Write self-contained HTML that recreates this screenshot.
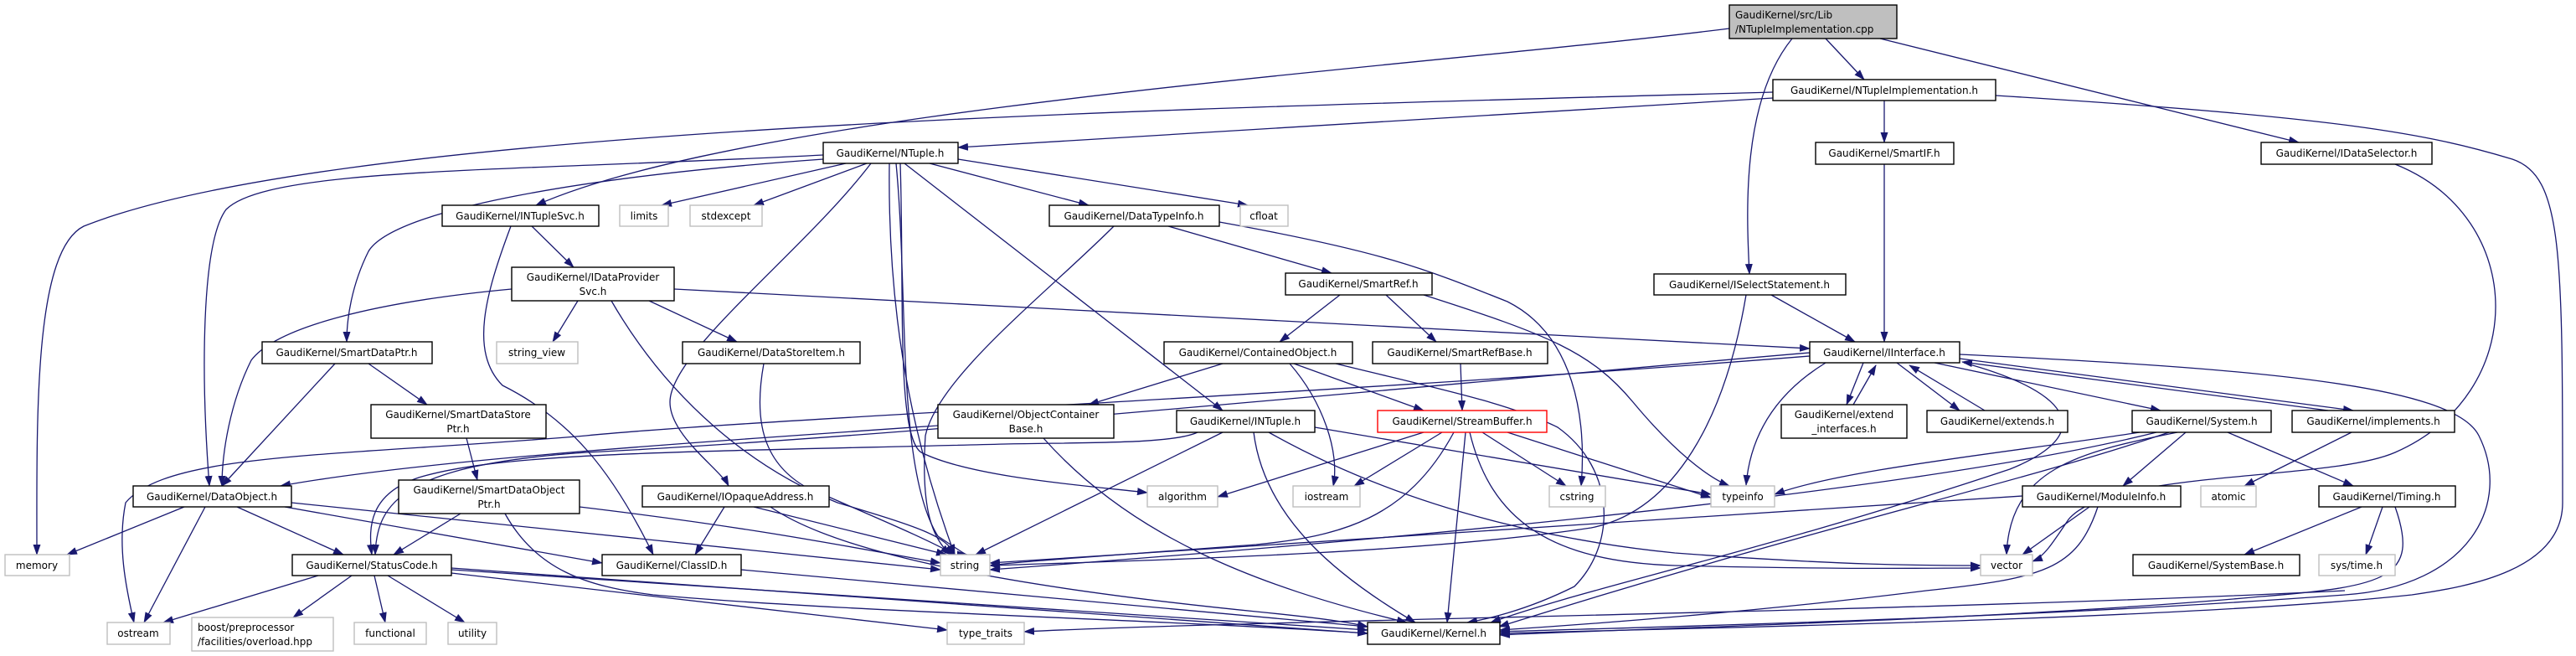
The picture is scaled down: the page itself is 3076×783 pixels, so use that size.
<!DOCTYPE html>
<html><head><meta charset="utf-8"><style>
html,body{margin:0;padding:0;background:#fff;}
svg{display:block;}
text{font-family:"DejaVu Sans","Liberation Sans",sans-serif;font-size:12px;fill:#000;}
.n{fill:#fff;stroke:#000;stroke-width:1.4;}
.x{fill:#fff;stroke:#bfbfbf;stroke-width:1.4;}
.e{fill:none;stroke:#191970;stroke-width:1.3;marker-end:url(#a);}
</style></head><body>
<svg width="3076" height="783" viewBox="0 0 3076 783" xmlns="http://www.w3.org/2000/svg">
<defs><marker id="a" markerWidth="13" markerHeight="9" refX="12" refY="4.5" orient="auto" markerUnits="userSpaceOnUse"><path d="M0,0 L13,4.5 L0,9 z" fill="#191970"/></marker></defs>
<g>
<path class="e" d="M2180,46 L2226,95"/>
<path class="e" d="M2065,34 C1700,80 900,130 640,245"/>
<path class="e" d="M2140,46 C2080,120 2085,250 2089,327"/>
<path class="e" d="M2245,46 L2745,170"/>
<path class="e" d="M2117,117 L1144,176"/>
<path class="e" d="M2117,110 C1400,130 400,150 100,270 C40,300 44,500 44,662"/>
<path class="e" d="M2250,120 L2250,170"/>
<path class="e" d="M2383,114 C2800,140 2900,160 3000,190 C3060,210 3060,300 3060,600 C3060,680 2950,700 2880,710 C2600,740 2000,750 1791,756"/>
<path class="e" d="M2250,196 L2250,408"/>
<path class="e" d="M2860,196 C3020,260 3020,470 2860,540 C2780,575 2520,560 2470,620 C2450,650 2440,665 2427,670"/>
<path class="e" d="M2115,352 L2215,408"/>
<path class="e" d="M2085,352 C2060,500 2000,610 1900,630 C1700,660 1400,668 1182,675"/>
<path class="e" d="M983,185 C600,205 320,200 270,250 C240,290 240,450 250,580"/>
<path class="e" d="M983,190 C700,210 470,250 440,300 C420,340 414,380 414,408"/>
<path class="e" d="M1010,195 L790,245"/>
<path class="e" d="M1035,195 L900,245"/>
<path class="e" d="M1110,195 L1300,245"/>
<path class="e" d="M1144,190 L1490,245"/>
<path class="e" d="M1040,195 C960,300 800,420 800,480 C800,520 860,560 870,580"/>
<path class="e" d="M1062,195 C1060,350 1080,500 1140,662"/>
<path class="e" d="M1070,195 C1085,350 1070,560 1120,640 C1150,660 1153,662 1155,662"/>
<path class="e" d="M1080,195 L1460,490"/>
<path class="e" d="M1075,195 C1080,350 1070,520 1100,540 C1160,570 1300,580 1370,588"/>
<path class="e" d="M635,270 L685,319"/>
<path class="e" d="M610,270 C580,350 560,420 600,460 C680,500 730,560 780,662"/>
<path class="e" d="M611,345 C450,360 330,390 300,430 C275,480 265,540 265,580"/>
<path class="e" d="M690,359 L660,408"/>
<path class="e" d="M775,359 L880,408"/>
<path class="e" d="M730,359 C800,480 900,560 1000,600 C1100,630 1130,640 1140,662"/>
<path class="e" d="M805,345 L2161,416"/>
<path class="e" d="M400,434 L265,580"/>
<path class="e" d="M440,434 L510,483"/>
<path class="e" d="M557,523 L570,573"/>
<path class="e" d="M550,613 L470,662"/>
<path class="e" d="M692,605 C900,630 1000,650 1123,672"/>
<path class="e" d="M603,613 C640,680 700,700 780,710 C1000,730 1400,740 1633,756"/>
<path class="e" d="M912,434 C900,500 910,550 960,580 C1050,620 1100,640 1140,662"/>
<path class="e" d="M1395,270 L1590,326"/>
<path class="e" d="M1330,270 C1250,350 1120,450 1105,520 C1100,600 1110,640 1135,662"/>
<path class="e" d="M1456,265 C1650,300 1700,320 1800,360 C1880,400 1895,500 1888,580"/>
<path class="e" d="M1600,352 L1528,408"/>
<path class="e" d="M1655,352 L1715,408"/>
<path class="e" d="M1700,352 C1850,400 1900,420 1950,480 C2000,540 2040,570 2065,580"/>
<path class="e" d="M1460,434 L1300,483"/>
<path class="e" d="M1545,434 L1700,490"/>
<path class="e" d="M1540,434 C1580,480 1600,540 1592,580"/>
<path class="e" d="M1595,434 C1700,460 1800,480 1860,510 C1930,560 1930,650 1880,700 C1820,730 1770,740 1752,743"/>
<path class="e" d="M1744,434 L1746,490"/>
<path class="e" d="M1120,508 C800,530 500,550 335,580"/>
<path class="e" d="M1246,523 C1350,640 1500,700 1680,743"/>
<path class="e" d="M1460,516 L1165,662"/>
<path class="e" d="M1497,516 C1510,620 1600,690 1690,743"/>
<path class="e" d="M1570,510 L2043,590"/>
<path class="e" d="M1515,516 C1700,620 1900,650 2000,660 C2200,675 2300,675 2365,675"/>
<path class="e" d="M1430,516 C1400,530 1300,528 1200,530 C800,540 600,540 500,570 C440,590 440,630 444,662"/>
<path class="e" d="M1700,516 L1454,593"/>
<path class="e" d="M1722,516 L1617,580"/>
<path class="e" d="M1770,516 L1870,580"/>
<path class="e" d="M1800,516 L2043,594"/>
<path class="e" d="M1736,516 C1680,620 1600,640 1500,650 C1300,665 1220,670 1182,675"/>
<path class="e" d="M1750,516 L1728,743"/>
<path class="e" d="M1755,516 C1780,620 1850,670 2000,675 C2200,680 2300,678 2365,678"/>
<path class="e" d="M220,605 L80,662"/>
<path class="e" d="M245,605 L172,743"/>
<path class="e" d="M283,605 L410,662"/>
<path class="e" d="M340,605 L719,672"/>
<path class="e" d="M348,600 L1123,680"/>
<path class="e" d="M865,605 L830,662"/>
<path class="e" d="M900,605 L1130,662"/>
<path class="e" d="M920,605 C1000,660 1200,700 1500,730 C1600,740 1620,745 1633,748"/>
<path class="e" d="M380,687 L195,743"/>
<path class="e" d="M420,687 L350,737"/>
<path class="e" d="M447,687 L460,743"/>
<path class="e" d="M463,687 L555,743"/>
<path class="e" d="M539,684 L1131,752"/>
<path class="e" d="M539,680 L1633,752"/>
<path class="e" d="M539,678 L1633,756"/>
<path class="e" d="M885,680 L1633,748"/>
<path class="e" d="M2180,433 C2120,470 2090,520 2085,579"/>
<path class="e" d="M2225,433 L2205,483"/>
<path class="e" d="M2213,483 L2240,436"/>
<path class="e" d="M2265,433 L2340,490"/>
<path class="e" d="M2370,490 L2280,436"/>
<path class="e" d="M2310,433 L2580,490"/>
<path class="e" d="M2340,428 L2810,490"/>
<path class="e" d="M2780,490 L2343,432"/>
<path class="e" d="M2161,425 C1600,470 900,500 700,520 C400,545 200,540 150,600 C140,650 150,700 160,743"/>
<path class="e" d="M2161,421 C1700,460 1100,520 700,540 C480,555 450,600 448,662"/>
<path class="e" d="M2340,423 C2700,440 2930,460 2960,520 C3000,600 2950,700 2800,710 C2400,740 1900,750 1791,754"/>
<path class="e" d="M2345,433 C2480,470 2500,520 2400,560 C2100,660 1900,700 1780,743"/>
<path class="e" d="M2808,516 L2680,580"/>
<path class="e" d="M2555,516 C2400,540 2200,560 2119,590"/>
<path class="e" d="M2575,516 C2400,560 2000,620 1182,680"/>
<path class="e" d="M2590,516 C2400,580 2200,620 1790,748"/>
<path class="e" d="M2600,516 C2480,540 2400,560 2396,662"/>
<path class="e" d="M2610,516 L2535,580"/>
<path class="e" d="M2660,516 L2810,580"/>
<path class="e" d="M2415,592 L1182,672"/>
<path class="e" d="M2495,605 L2415,662"/>
<path class="e" d="M2505,605 C2480,680 2440,690 2300,705 C2100,730 1900,745 1791,752"/>
<path class="e" d="M2820,605 L2680,662"/>
<path class="e" d="M2845,605 L2825,662"/>
<path class="e" d="M2860,605 C2890,690 2850,700 2700,712 C2400,740 1900,752 1791,758"/>
<path class="e" d="M2800,705 C2300,730 1500,740 1223,754"/>
</g>
<g>
<rect x="2065" y="6" width="200" height="40" fill="#bfbfbf" stroke="#000" stroke-width="1.4"/>
<text x="2072" y="22">GaudiKernel/src/Lib</text><text x="2072" y="39">/NTupleImplementation.cpp</text>
<rect class="n" x="2117" y="95" width="266" height="25"/><text x="2250" y="112" text-anchor="middle">GaudiKernel/NTupleImplementation.h</text>
<rect class="n" x="983" y="170" width="161" height="25"/><text x="1063" y="187" text-anchor="middle">GaudiKernel/NTuple.h</text>
<rect class="n" x="2168" y="170" width="165" height="26"/><text x="2250" y="187" text-anchor="middle">GaudiKernel/SmartIF.h</text>
<rect class="n" x="2700" y="170" width="204" height="26"/><text x="2802" y="187" text-anchor="middle">GaudiKernel/IDataSelector.h</text>
<rect class="n" x="528" y="245" width="187" height="25"/><text x="621" y="262" text-anchor="middle">GaudiKernel/INTupleSvc.h</text>
<rect class="x" x="740" y="245" width="58" height="25"/><text x="769" y="262" text-anchor="middle">limits</text>
<rect class="x" x="824" y="245" width="86" height="25"/><text x="867" y="262" text-anchor="middle">stdexcept</text>
<rect class="n" x="1253" y="245" width="203" height="25"/><text x="1354" y="262" text-anchor="middle">GaudiKernel/DataTypeInfo.h</text>
<rect class="x" x="1481" y="245" width="57" height="25"/><text x="1509" y="262" text-anchor="middle">cfloat</text>
<rect class="n" x="611" y="319" width="194" height="40"/><text x="708" y="335" text-anchor="middle">GaudiKernel/IDataProvider</text><text x="708" y="352" text-anchor="middle">Svc.h</text>
<rect class="n" x="1535" y="326" width="175" height="26"/><text x="1622" y="343" text-anchor="middle">GaudiKernel/SmartRef.h</text>
<rect class="n" x="1975" y="327" width="229" height="25"/><text x="2089" y="344" text-anchor="middle">GaudiKernel/ISelectStatement.h</text>
<rect class="n" x="313" y="408" width="203" height="26"/><text x="414" y="425" text-anchor="middle">GaudiKernel/SmartDataPtr.h</text>
<rect class="x" x="593" y="408" width="97" height="26"/><text x="641" y="425" text-anchor="middle">string_view</text>
<rect class="n" x="815" y="408" width="212" height="26"/><text x="921" y="425" text-anchor="middle">GaudiKernel/DataStoreItem.h</text>
<rect class="n" x="1390" y="408" width="225" height="26"/><text x="1502" y="425" text-anchor="middle">GaudiKernel/ContainedObject.h</text>
<rect class="n" x="1639" y="408" width="209" height="26"/><text x="1743" y="425" text-anchor="middle">GaudiKernel/SmartRefBase.h</text>
<rect class="n" x="2161" y="408" width="179" height="25"/><text x="2250" y="425" text-anchor="middle">GaudiKernel/IInterface.h</text>
<rect class="n" x="443" y="483" width="209" height="40"/><text x="547" y="499" text-anchor="middle">GaudiKernel/SmartDataStore</text><text x="547" y="516" text-anchor="middle">Ptr.h</text>
<rect class="n" x="1120" y="483" width="210" height="40"/><text x="1225" y="499" text-anchor="middle">GaudiKernel/ObjectContainer</text><text x="1225" y="516" text-anchor="middle">Base.h</text>
<rect class="n" x="1405" y="490" width="165" height="26"/><text x="1487" y="507" text-anchor="middle">GaudiKernel/INTuple.h</text>
<rect x="1645" y="490" width="202" height="26" fill="#fff" stroke="#ff0000" stroke-width="1.4"/><text x="1746" y="507" text-anchor="middle">GaudiKernel/StreamBuffer.h</text>
<rect class="n" x="2127" y="483" width="150" height="40"/><text x="2202" y="499" text-anchor="middle">GaudiKernel/extend</text><text x="2202" y="516" text-anchor="middle">_interfaces.h</text>
<rect class="n" x="2301" y="490" width="168" height="26"/><text x="2385" y="507" text-anchor="middle">GaudiKernel/extends.h</text>
<rect class="n" x="2546" y="490" width="166" height="26"/><text x="2629" y="507" text-anchor="middle">GaudiKernel/System.h</text>
<rect class="n" x="2737" y="490" width="194" height="26"/><text x="2834" y="507" text-anchor="middle">GaudiKernel/implements.h</text>
<rect class="n" x="159" y="580" width="189" height="25"/><text x="253" y="597" text-anchor="middle">GaudiKernel/DataObject.h</text>
<rect class="n" x="476" y="573" width="216" height="40"/><text x="584" y="589" text-anchor="middle">GaudiKernel/SmartDataObject</text><text x="584" y="606" text-anchor="middle">Ptr.h</text>
<rect class="n" x="767" y="580" width="223" height="25"/><text x="878" y="597" text-anchor="middle">GaudiKernel/IOpaqueAddress.h</text>
<rect class="x" x="1370" y="580" width="84" height="25"/><text x="1412" y="597" text-anchor="middle">algorithm</text>
<rect class="x" x="1544" y="580" width="80" height="25"/><text x="1584" y="597" text-anchor="middle">iostream</text>
<rect class="x" x="1850" y="580" width="67" height="25"/><text x="1883" y="597" text-anchor="middle">cstring</text>
<rect class="x" x="2043" y="580" width="76" height="25"/><text x="2081" y="597" text-anchor="middle">typeinfo</text>
<rect class="n" x="2415" y="580" width="189" height="25"/><text x="2509" y="597" text-anchor="middle">GaudiKernel/ModuleInfo.h</text>
<rect class="x" x="2628" y="580" width="66" height="25"/><text x="2661" y="597" text-anchor="middle">atomic</text>
<rect class="n" x="2769" y="580" width="163" height="25"/><text x="2850" y="597" text-anchor="middle">GaudiKernel/Timing.h</text>
<rect class="x" x="6" y="662" width="77" height="25"/><text x="44" y="679" text-anchor="middle">memory</text>
<rect class="n" x="349" y="662" width="190" height="25"/><text x="444" y="679" text-anchor="middle">GaudiKernel/StatusCode.h</text>
<rect class="n" x="719" y="662" width="166" height="25"/><text x="802" y="679" text-anchor="middle">GaudiKernel/ClassID.h</text>
<rect class="x" x="1123" y="662" width="59" height="25"/><text x="1152" y="679" text-anchor="middle">string</text>
<rect class="x" x="2365" y="662" width="62" height="25"/><text x="2396" y="679" text-anchor="middle">vector</text>
<rect class="n" x="2547" y="662" width="199" height="25"/><text x="2646" y="679" text-anchor="middle">GaudiKernel/SystemBase.h</text>
<rect class="x" x="2769" y="662" width="91" height="25"/><text x="2814" y="679" text-anchor="middle">sys/time.h</text>
<rect class="x" x="128" y="743" width="75" height="26"/><text x="165" y="760" text-anchor="middle">ostream</text>
<rect class="x" x="229" y="737" width="169" height="40"/><text x="236" y="753">boost/preprocessor</text><text x="236" y="770">/facilities/overload.hpp</text>
<rect class="x" x="423" y="743" width="86" height="26"/><text x="466" y="760" text-anchor="middle">functional</text>
<rect class="x" x="535" y="743" width="58" height="26"/><text x="564" y="760" text-anchor="middle">utility</text>
<rect class="x" x="1131" y="743" width="92" height="26"/><text x="1177" y="760" text-anchor="middle">type_traits</text>
<rect class="n" x="1633" y="743" width="158" height="26"/><text x="1712" y="760" text-anchor="middle">GaudiKernel/Kernel.h</text>
</g>
</svg>
</body></html>
